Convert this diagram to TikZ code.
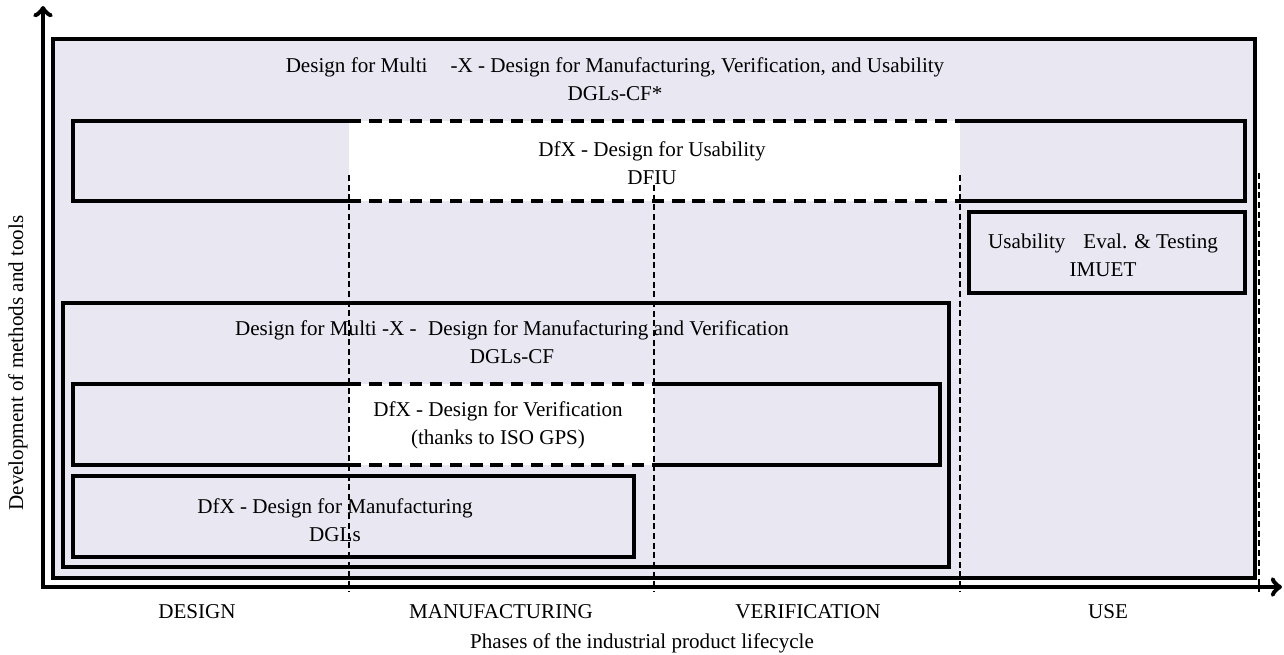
\documentclass[tikz,border=0pt]{standalone}
\usepackage{fontspec}
\setmainfont{Liberation Serif}
\usetikzlibrary{positioning}

\definecolor{lavender}{HTML}{E8E7F2}

\tikzset{
  box text/.style={font=\fontsize{12}{16}\selectfont, align=center, inner sep=0pt},
  solid box/.style={line width=1.9pt},
  dashed box/.style={line width=1.9pt, dash pattern=on 7pt off 4.5pt},
  phase line/.style={line width=0.6pt, dash pattern=on 3.5pt off 2pt},
  axis/.style={line width=2.8pt, ->},
}

\begin{document}
\begin{tikzpicture}[x=0.02cm, y=-0.02cm, >=to]

\useasboundingbox (0,0) rectangle (1284,654);

% outer box
\draw [solid box, fill=lavender] (53,39) rectangle (1255,578);

% usability box
\fill [white] (349,121) rectangle (960,201);
\draw [solid box] (349,121) -- (73,121) -- (73,201) -- (349,201);
\draw [solid box] (960,121) -- (1245,121) -- (1245,201) -- (960,201);
\draw [dashed box] (349,121) -- (960,121) (349,201) -- (960,201);

% usability testing box
\draw [solid box] (969,212) rectangle (1245,293);

% manufacturing and verification box
\draw [solid box] (63,303) rectangle (949,567);

% verification box
\fill [white] (349,384) rectangle (654,465);
\draw [solid box] (349,384) -- (73,384) -- (73,465) -- (349,465);
\draw [solid box] (654,384) -- (940,384) -- (940,465) -- (654,465);
\draw [dashed box] (349,384) -- (654,384) (349,465) -- (654,465);

% manufacturing box
\draw [solid box] (73,476) rectangle (634,557);

% box labels
\node [box text] (txt-all) at (615,79)
  {Design for Multi\hspace{1.1em}-X - Design for Manufacturing, Verification, and Usability\\DGLs-CF*};
\node [box text] (txt-usab) at (652,163) {DfX - Design for Usability\\DFIU};
\node [box text] (txt-imuet) at (1103,255) {Usability\hspace{0.6em} Eval. \& Testing\\IMUET};
\node [box text] (txt-mv) at (512,342)
  {Design for Multi -X -\hspace{0.3em} Design for Manufacturing and Verification\\DGLs-CF};
\node [box text] (txt-verif) at (498,425) {DfX - Design for Verification\\(thanks to ISO GPS)};
\node [box text] (txt-manuf) at (335,520) {DfX - Design for Manufacturing\\DGLs};

% phase borders
\foreach \x/\t in {349/175, 654/185, 960/175, 1259/173}
  \draw [phase line] (\x,\t) -- (\x,592);

% axes
\coordinate (origin) at (43,587);
\coordinate (y-end) at (43,6);
\coordinate (x-end) at (1282,587);
\draw [axis] (origin) -- (y-end);
\draw [axis] ([xshift=-1.4pt]origin) -- (x-end);

% phase labels
\foreach \l/\x [count=\i] in {DESIGN/197, MANUFACTURING/501, VERIFICATION/808, USE/1108}
  \node [box text] (phase-\i) at (\x,612) {\l};

\node [box text] (x-label) at (642,643) {Phases of the industrial product lifecycle};
\node [box text, rotate=90] (y-label) at (18,363) {Development of methods and tools};

\end{tikzpicture}
\end{document}
